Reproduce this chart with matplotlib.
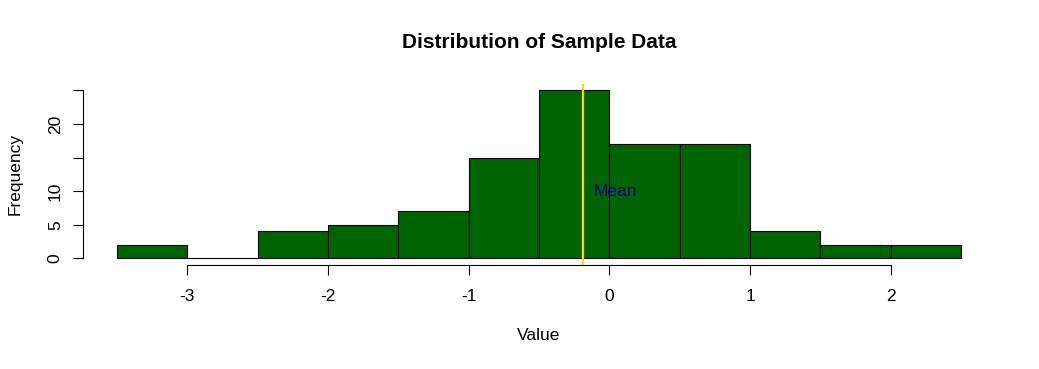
import matplotlib.pyplot as plt

# ----------------------------
# Data
# ----------------------------
BIN_EDGES = [-3.5, -3.0, -2.5, -2.0, -1.5, -1.0, -0.5, 0.0, 0.5, 1.0, 1.5, 2.0, 2.5]
COUNTS = [2, 0, 4, 5, 7, 15, 25, 17, 17, 4, 2, 2]
MEAN_VALUE = -0.19
MEAN_LABEL_X = 0.04
MEAN_LABEL_Y = 10
X_TICKS = [-3, -2, -1, 0, 1, 2]
Y_TICKS = [0, 5, 10, 15, 20, 25]
Y_TICK_LABELS = ["0", "5", "10", "", "20", ""]

# ----------------------------
# Look
# ----------------------------
W, H, DPI = 1039, 369, 100
BAR_COLOR = '#006400'
MEAN_COLOR = '#FFD700'
MEAN_TEXT_COLOR = '#00008B'
FONT = 'Liberation Sans'
FS = 12.5

plt.rcParams['font.family'] = [FONT, 'DejaVu Sans']

fig = plt.figure(figsize=(W / DPI, H / DPI), dpi=DPI)
ax = fig.add_axes([83 / W, 1 - 265 / H, (995 - 83) / W, (265 - 83.6) / H])

widths = [b - a for a, b in zip(BIN_EDGES[:-1], BIN_EDGES[1:])]
ax.bar(BIN_EDGES[:-1], COUNTS, width=widths, align='edge',
       color=BAR_COLOR, edgecolor='black', linewidth=0.8)

ax.axvline(MEAN_VALUE, color=MEAN_COLOR, linewidth=1.6)
ax.text(MEAN_LABEL_X, MEAN_LABEL_Y, "Mean", color=MEAN_TEXT_COLOR,
        fontsize=FS, ha='center', va='center')

# R-style range expansion (4%)
xr = BIN_EDGES[-1] - BIN_EDGES[0]
ax.set_xlim(BIN_EDGES[0] - 0.04 * xr, BIN_EDGES[-1] + 0.04 * xr)
ax.set_ylim(-1, 26)

for s in ('top', 'right'):
    ax.spines[s].set_visible(False)
ax.spines['left'].set_bounds(Y_TICKS[0], Y_TICKS[-1])
ax.spines['bottom'].set_bounds(X_TICKS[0], X_TICKS[-1])
for s in ('left', 'bottom'):
    ax.spines[s].set_linewidth(0.8)

ax.set_xticks(X_TICKS)
ax.set_xticklabels([str(t) for t in X_TICKS])
ax.set_yticks(Y_TICKS)
ax.set_yticklabels(Y_TICK_LABELS, rotation=90, va='center')
ax.tick_params(direction='out', length=7.5, width=0.8, labelsize=FS)
ax.tick_params(axis='x', pad=10)
ax.tick_params(axis='y', pad=7)

ax.set_xlabel("Value", fontsize=FS, labelpad=17)
ax.set_ylabel("Frequency", fontsize=FS, labelpad=18)
# title centred over the plot region, as R does
fig.text(539 / W, 1 - 43 / H, "Distribution of Sample Data",
         fontsize=15, fontweight='bold', ha='center', va='center')

fig.savefig('out.png', dpi=DPI)
